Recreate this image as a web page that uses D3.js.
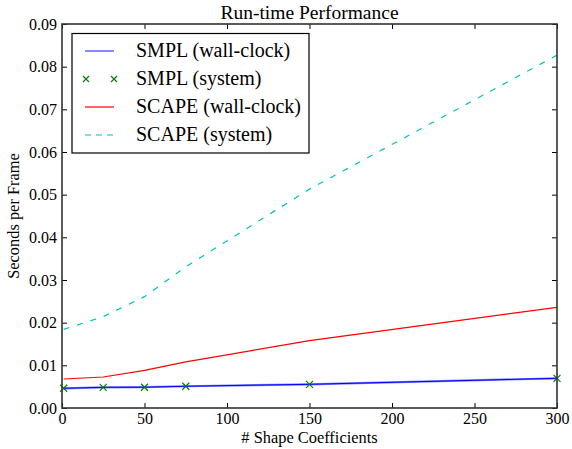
<!DOCTYPE html>
<html><head><meta charset="utf-8">
<script src="https://cdn.jsdelivr.net/npm/d3@7/dist/d3.min.js"></script>
<style>body{margin:0;background:#fff}svg{display:block}svg text{font-family:"Liberation Serif","Times New Roman",serif !important;fill:#000}</style>
</head><body><svg id="c" width="572" height="449"></svg>
<script>
const coeffs = [1, 25, 50, 75, 150, 300];
const smplWall = [0.00462, 0.00485, 0.00487, 0.0051, 0.00555, 0.00696];
const smplSys = [0.00462, 0.00485, 0.00487, 0.0051, 0.00555, 0.00696];
const scapeWall = [0.0068, 0.00727, 0.00883, 0.0108, 0.0158, 0.0236];
const scapeSys = [0.01844, 0.0214, 0.0261, 0.0331, 0.0513, 0.0827];
const xTicks = [0, 50, 100, 150, 200, 250, 300];
const yTicks = [0, 0.01, 0.02, 0.03, 0.04, 0.05, 0.06, 0.07, 0.08, 0.09];
const legendLabels = ["SMPL (wall-clock)", "SMPL (system)", "SCAPE (wall-clock)", "SCAPE (system)"];

const FONT = '"Liberation Serif","Times New Roman",serif';
const svg = d3.select("#c");
const L = 62, R = 557, T = 24, B = 408;
const x = d3.scaleLinear().domain([0, 300]).range([L, R]);
const y = d3.scaleLinear().domain([0, 0.09]).range([B, T]);

const line = d3.line().x(d => x(d[0])).y(d => y(d[1]));
const pts = vals => coeffs.map((c, i) => [c, vals[i]]);

// series
svg.append("path").attr("d", line(pts(scapeSys))).attr("fill", "none")
  .attr("stroke", "#00bfbf").attr("stroke-width", 1.2).attr("stroke-dasharray", "6,8");
svg.append("path").attr("d", line(pts(scapeWall))).attr("fill", "none")
  .attr("stroke", "#ff0000").attr("stroke-width", 1.2);
svg.append("path").attr("d", line(pts(smplWall))).attr("fill", "none")
  .attr("stroke", "#8080ff").attr("stroke-width", 2.2);
svg.append("path").attr("d", line(pts(smplWall))).attr("fill", "none")
  .attr("stroke", "#0000ff").attr("stroke-width", 1);

function xMark(g, cx, cy, s) {
  g.append("path").attr("d", `M${cx - s},${cy - s}L${cx + s},${cy + s}M${cx - s},${cy + s}L${cx + s},${cy - s}`)
    .attr("stroke", "#008000").attr("stroke-width", 1.2).attr("fill", "none");
}
const mg = svg.append("g");
pts(smplSys).forEach(p => xMark(mg, x(p[0]), y(p[1]), 3.5));

// axes
const ax = svg.append("g");
const xb = d3.axisBottom(x).tickValues(xTicks).tickFormat(d3.format("d")).tickSizeInner(-5).tickSizeOuter(0).tickPadding(5);
const gx = ax.append("g").attr("transform", `translate(0,${B})`).call(xb);
const xt = d3.axisTop(x).tickValues(xTicks).tickFormat("").tickSizeInner(-5).tickSizeOuter(0);
const gxt = ax.append("g").attr("transform", `translate(0,${T})`).call(xt);
const yl = d3.axisLeft(y).tickValues(yTicks).tickFormat(d3.format(".2f")).tickSizeInner(-5).tickSizeOuter(0).tickPadding(5);
const gy = ax.append("g").attr("transform", `translate(${L},0)`).call(yl);
const yr = d3.axisRight(y).tickValues(yTicks).tickFormat("").tickSizeInner(-5).tickSizeOuter(0);
const gyr = ax.append("g").attr("transform", `translate(${R},0)`).call(yr);
[gx, gxt, gy, gyr].forEach(g => {
  g.attr("font-family", FONT).attr("font-size", 16);
  g.select(".domain").remove();
  g.selectAll("line").attr("stroke", "#000").attr("stroke-width", 1);
  g.selectAll("text").style("font-size", "16px").attr("fill", "#000");
});
svg.append("rect").attr("x", L).attr("y", T).attr("width", R - L).attr("height", B - T)
  .attr("fill", "none").attr("stroke", "#333").attr("stroke-width", 1.6);

// title & labels
svg.append("text").attr("x", (L + R) / 2).attr("y", 19).attr("text-anchor", "middle")
  .style("font-size", "19.5px").text("Run-time Performance");
svg.append("text").attr("x", (L + R) / 2).attr("y", 443).attr("text-anchor", "middle")
  .style("font-size", "16.4px").text("# Shape Coefficients");
svg.append("text").attr("transform", `translate(19,${(T + B) / 2}) rotate(-90)`).attr("text-anchor", "middle")
  .style("font-size", "16.4px").text("Seconds per Frame");

// legend
const lg = svg.append("g");
lg.append("rect").attr("x", 72).attr("y", 33.5).attr("width", 237).attr("height", 119.5)
  .attr("fill", "#fff").attr("stroke", "#000").attr("stroke-width", 1.2);
const rows = [51, 79, 107, 135];
lg.append("line").attr("x1", 85).attr("x2", 114).attr("y1", rows[0]).attr("y2", rows[0]).attr("stroke", "#6a6aff").attr("stroke-width", 1.6);
xMark(lg, 86, rows[1], 3); xMark(lg, 114, rows[1], 3);
lg.append("line").attr("x1", 85).attr("x2", 114).attr("y1", rows[2]).attr("y2", rows[2]).attr("stroke", "#ff0000").attr("stroke-width", 1.2);
lg.append("line").attr("x1", 85).attr("x2", 114).attr("y1", rows[3]).attr("y2", rows[3]).attr("stroke", "#00bfbf").attr("stroke-width", 1.2).attr("stroke-dasharray", "6,5");
legendLabels.forEach((t, i) => {
  lg.append("text").attr("x", 136).attr("y", rows[i] + 5.5).style("font-size", "20px").text(t);
});
</script></body></html>
